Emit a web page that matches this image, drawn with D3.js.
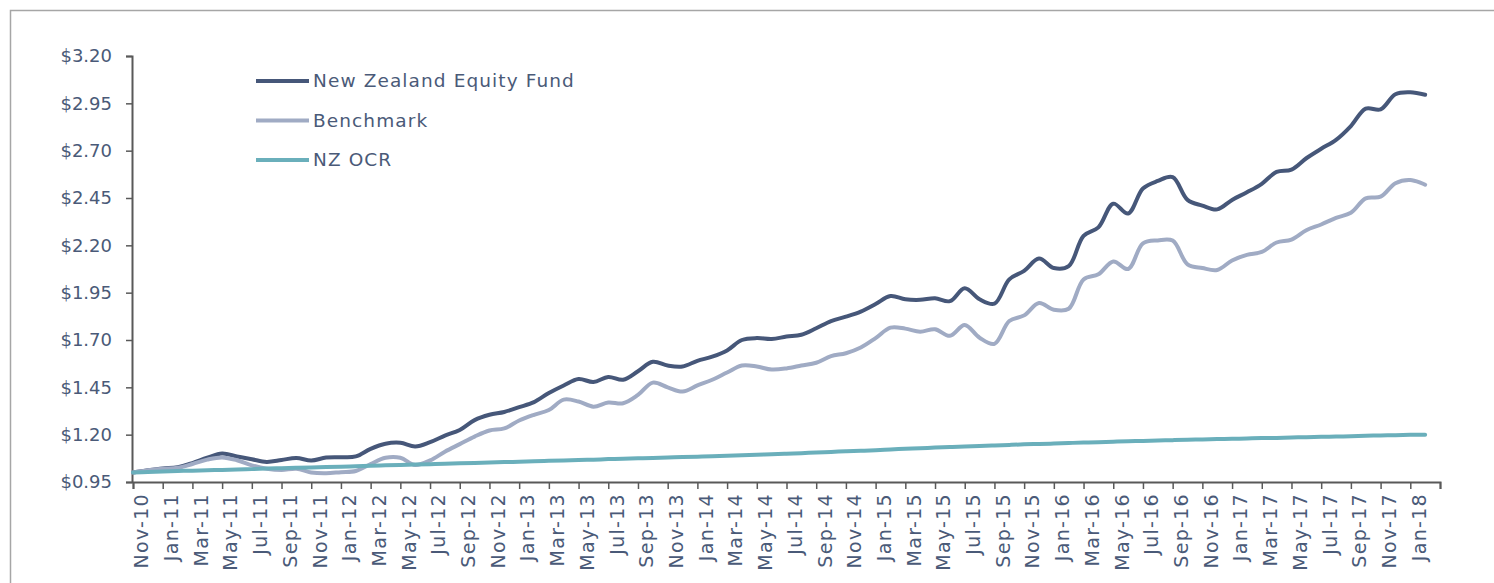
<!DOCTYPE html>
<html>
<head>
<meta charset="utf-8">
<script src="https://cdn.jsdelivr.net/npm/d3@7"></script>
<style>
  body { margin: 0; background: #fff; }
  text { font-family: "Century Gothic", "DejaVu Sans", sans-serif; fill: #4a5a78; }
</style>
</head>
<body>
<div id="chart"></div>
<script>
// Month labels, Nov-10 .. Feb-18 (one per data point)
const months = [
  "Nov-10","Dec-10","Jan-11","Feb-11","Mar-11","Apr-11","May-11","Jun-11","Jul-11","Aug-11","Sep-11","Oct-11",
  "Nov-11","Dec-11","Jan-12","Feb-12","Mar-12","Apr-12","May-12","Jun-12","Jul-12","Aug-12","Sep-12","Oct-12",
  "Nov-12","Dec-12","Jan-13","Feb-13","Mar-13","Apr-13","May-13","Jun-13","Jul-13","Aug-13","Sep-13","Oct-13",
  "Nov-13","Dec-13","Jan-14","Feb-14","Mar-14","Apr-14","May-14","Jun-14","Jul-14","Aug-14","Sep-14","Oct-14",
  "Nov-14","Dec-14","Jan-15","Feb-15","Mar-15","Apr-15","May-15","Jun-15","Jul-15","Aug-15","Sep-15","Oct-15",
  "Nov-15","Dec-15","Jan-16","Feb-16","Mar-16","Apr-16","May-16","Jun-16","Jul-16","Aug-16","Sep-16","Oct-16",
  "Nov-16","Dec-16","Jan-17","Feb-17","Mar-17","Apr-17","May-17","Jun-17","Jul-17","Aug-17","Sep-17","Oct-17",
  "Nov-17","Dec-17","Jan-18","Feb-18"
];

const fund = [
  1.000, 1.012, 1.022, 1.028, 1.050, 1.078, 1.100, 1.085, 1.070, 1.056, 1.066, 1.077,
  1.063, 1.079, 1.081, 1.085, 1.125, 1.152, 1.157, 1.137, 1.160, 1.195, 1.225, 1.277,
  1.305, 1.320, 1.345, 1.372, 1.420, 1.460, 1.494, 1.478, 1.505, 1.490, 1.535, 1.585,
  1.565, 1.560, 1.590, 1.612, 1.645, 1.700, 1.710, 1.705, 1.718, 1.728, 1.762, 1.800,
  1.823, 1.850, 1.890, 1.932, 1.915, 1.912, 1.920, 1.905, 1.973, 1.915, 1.892, 2.020,
  2.065, 2.130, 2.080, 2.090, 2.250, 2.295, 2.420, 2.368, 2.500, 2.540, 2.560, 2.440,
  2.410, 2.390, 2.440, 2.480, 2.525, 2.588, 2.600, 2.660, 2.710, 2.757, 2.830, 2.922,
  2.918, 2.998, 3.008, 2.995
];

const benchmark = [
  1.000, 1.012, 1.020, 1.025, 1.045, 1.068, 1.080, 1.065, 1.038, 1.020, 1.013, 1.020,
  1.000, 0.996, 1.002, 1.008, 1.045, 1.078, 1.078, 1.040, 1.064, 1.110, 1.150, 1.190,
  1.222, 1.233, 1.275, 1.305, 1.330, 1.385, 1.375, 1.348, 1.370, 1.366, 1.410, 1.475,
  1.450, 1.428, 1.460, 1.490, 1.528, 1.565, 1.560, 1.544, 1.550, 1.565, 1.580, 1.615,
  1.630, 1.660, 1.710, 1.765, 1.760, 1.744, 1.757, 1.722, 1.779, 1.712, 1.680, 1.800,
  1.830, 1.895, 1.860, 1.865, 2.020, 2.047, 2.115, 2.075, 2.210, 2.226, 2.225, 2.100,
  2.080, 2.070, 2.120, 2.150, 2.165, 2.215, 2.230, 2.280, 2.310, 2.345, 2.372, 2.448,
  2.457, 2.528, 2.545, 2.520
];

const ocr = [
  1.000, 1.003, 1.005, 1.008, 1.010, 1.012, 1.014, 1.016, 1.018, 1.021, 1.023, 1.025,
  1.027, 1.029, 1.031, 1.033, 1.036, 1.038, 1.040, 1.042, 1.044, 1.046, 1.049, 1.051,
  1.053, 1.055, 1.057, 1.060, 1.062, 1.064, 1.066, 1.068, 1.071, 1.073, 1.075, 1.077,
  1.080, 1.082, 1.084, 1.086, 1.089, 1.091, 1.094, 1.096, 1.099, 1.102, 1.106, 1.109,
  1.112, 1.115, 1.118, 1.122, 1.125, 1.128, 1.132, 1.135, 1.138, 1.140, 1.143, 1.146,
  1.149, 1.151, 1.153, 1.156, 1.158, 1.160, 1.163, 1.165, 1.167, 1.169, 1.171, 1.173,
  1.175, 1.177, 1.178, 1.180, 1.182, 1.183, 1.185, 1.187, 1.189, 1.190, 1.192, 1.194,
  1.196, 1.197, 1.199, 1.200
];

const yTicks = [0.95, 1.20, 1.45, 1.70, 1.95, 2.20, 2.45, 2.70, 2.95, 3.20];

const seriesList = [
  { name: "New Zealand Equity Fund", values: fund, color: "#465779" },
  { name: "Benchmark", values: benchmark, color: "#a0abc4" },
  { name: "NZ OCR", values: ocr, color: "#6aafbb" }
];

function drawChart() {
    const W = 1494, H = 583;
    const margin = { top: 56, left: 132, right: 54, bottom: 101 };

    const svg = d3.select("#chart")
        .append("svg")
        .attr("width", W)
        .attr("height", H);

    // outer frame (runs off the right and bottom edges)
    svg.append("rect")
        .attr("x", 10.5)
        .attr("y", 10.5)
        .attr("width", W + 20)
        .attr("height", H + 20)
        .attr("fill", "none")
        .attr("stroke", "#a6a6a6")
        .attr("stroke-width", 1.5);

    // one extra month on the axis so the last tick sits at the end
    const x = d3.scaleLinear()
        .domain([0, months.length])
        .range([margin.left + 1, W - margin.right]);

    const y = d3.scaleLinear()
        .domain([0.95, 3.20])
        .range([H - margin.bottom, margin.top]);

    // y axis
    const yAxis = svg.append("g")
        .attr("transform", `translate(${margin.left},0)`)
        .call(d3.axisLeft(y)
            .tickValues(yTicks)
            .tickSize(6)
            .tickPadding(14)
            .tickFormat(d => "$" + d3.format(".2f")(d)));
    yAxis.select(".domain").attr("stroke", "#595959").attr("stroke-width", 2);
    yAxis.selectAll(".tick line").attr("stroke", "#595959").attr("stroke-width", 1.5);
    yAxis.selectAll("text")
        .style("font-size", "18px")
        .style("fill", "#4a5a78");

    // x axis: tick every two months
    const xTickVals = d3.range(0, months.length + 1, 2);
    const xAxis = svg.append("g")
        .attr("transform", `translate(0,${H - margin.bottom})`)
        .call(d3.axisBottom(x)
            .tickValues(xTickVals)
            .tickSize(7)
            .tickFormat(i => months[i] || ""));
    xAxis.select(".domain").attr("stroke", "#595959").attr("stroke-width", 2);
    xAxis.selectAll(".tick line").attr("stroke", "#595959").attr("stroke-width", 1.5);
    xAxis.selectAll("text")
        .attr("transform", "rotate(-90)")
        .attr("x", -11)
        .attr("y", 0)
        .attr("dy", "0.78em")
        .style("text-anchor", "end")
        .style("font-size", "19px")
        .style("letter-spacing", "1.3px")
        .style("fill", "#4a5a78");

    // lines
    const line = d3.line()
        .x((d, i) => x(i))
        .y(d => y(d))
        .curve(d3.curveCatmullRom.alpha(0.5));

    svg.selectAll(".series")
        .data(seriesList)
        .join("path")
        .attr("class", "series")
        .attr("d", d => line(d.values))
        .attr("fill", "none")
        .attr("stroke", d => d.color)
        .attr("stroke-width", 4)
        .attr("stroke-linecap", "round")
        .attr("stroke-linejoin", "round");

    // legend
    const legend = svg.append("g")
        .attr("transform", "translate(256,81)");
    const item = legend.selectAll("g")
        .data(seriesList)
        .join("g")
        .attr("transform", (d, i) => `translate(0,${i * 39.5})`);
    item.append("line")
        .attr("x1", 0).attr("x2", 53)
        .attr("stroke", d => d.color)
        .attr("stroke-width", 4);
    item.append("text")
        .attr("x", 57)
        .attr("dy", "0.35em")
        .style("font-size", "18.5px")
        .style("letter-spacing", "1.1px")
        .text(d => d.name);
}

drawChart();
</script>
</body>
</html>
